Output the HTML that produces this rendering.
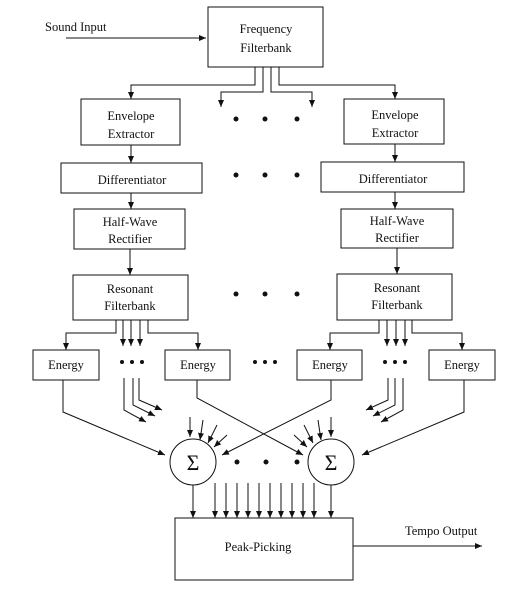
<!DOCTYPE html>
<html><head><meta charset="utf-8"><style>
html,body{margin:0;padding:0;background:#fff;}
svg{display:block;}
text{font-family:"Liberation Serif",serif;font-size:12.5px;fill:#111;}
</style></head><body>
<svg width="527" height="604" viewBox="0 0 527 604" xmlns="http://www.w3.org/2000/svg">
<defs>
<marker id="a" markerWidth="8" markerHeight="8" refX="7" refY="3" orient="auto" markerUnits="userSpaceOnUse">
<path d="M0,0 L7,3 L0,6 Z" fill="#111"/></marker>
</defs>
<g fill="none" stroke="#111" stroke-width="1">
<!-- boxes -->
<rect x="208" y="7" width="115" height="60"/>
<rect x="81" y="99" width="99" height="46"/>
<rect x="344" y="99" width="100" height="45"/>
<rect x="61" y="163" width="141" height="30"/>
<rect x="321" y="162" width="143" height="30"/>
<rect x="74" y="209" width="111" height="40"/>
<rect x="341" y="209" width="112" height="39"/>
<rect x="73" y="275" width="115" height="45"/>
<rect x="337" y="274" width="115" height="46"/>
<rect x="33" y="350" width="66" height="30"/>
<rect x="165" y="350" width="65" height="30"/>
<rect x="297" y="350" width="65" height="30"/>
<rect x="429" y="350" width="66" height="30"/>
<rect x="175" y="518" width="178" height="62"/>
<circle cx="193" cy="462" r="23"/>
<circle cx="331" cy="462" r="23"/>
</g>
<g fill="none" stroke="#111" stroke-width="1" marker-end="url(#a)">
<path d="M66,38 H206"/>
<path d="M255,67 V85 H131 V99"/>
<path d="M263,67 V92 H221 V107"/>
<path d="M271,67 V92 H312 V107"/>
<path d="M279,67 V85 H395 V99"/>
<path d="M131,145 V163"/><path d="M395,144 V162"/>
<path d="M131,193 V209"/><path d="M395,192 V209"/>
<path d="M130,249 V275"/><path d="M397,248 V274"/>
<path d="M116,320 V333 H66 V350"/>
<path d="M123,320 V346"/><path d="M131,320 V346"/><path d="M140,320 V346"/>
<path d="M148,320 V333 H198 V350"/>
<path d="M379,320 V333 H330 V350"/>
<path d="M387,320 V346"/><path d="M396,320 V346"/><path d="M405,320 V346"/>
<path d="M412,320 V333 H462 V350"/>
<path d="M124,378 V410 L146,422"/>
<path d="M133,378 V405 L155,416"/>
<path d="M139,378 V400 L162,410"/>
<path d="M403,378 V410 L381,422"/>
<path d="M395,378 V405 L373,416"/>
<path d="M388,378 V400 L366,410"/>
<path d="M63,380 V412 L165,455"/>
<path d="M197,380 V398 L303,455"/>
<path d="M331,380 V400 L222,455"/>
<path d="M464,380 V412 L362,455"/>
<path d="M190,417 V437"/><path d="M203,420 L200,440"/><path d="M217,425 L208,443"/><path d="M227,435 L214,447"/>
<path d="M331,417 V437"/><path d="M318,420 L321,440"/><path d="M304,425 L313,443"/><path d="M294,435 L307,447"/>
<path d="M193,485 V518"/><path d="M331,485 V518"/>
<path d="M215,483 V518"/><path d="M226,483 V518"/><path d="M237,483 V518"/><path d="M248,483 V518"/><path d="M259,483 V518"/>
<path d="M270,483 V518"/><path d="M281,483 V518"/><path d="M292,483 V518"/><path d="M303,483 V518"/><path d="M314,483 V518"/>
<path d="M353,546 H482"/>
</g>
<g fill="#111">
<circle cx="236" cy="119" r="2.5"/><circle cx="265" cy="119" r="2.5"/><circle cx="297" cy="119" r="2.5"/>
<circle cx="236" cy="175" r="2.5"/><circle cx="265" cy="175" r="2.5"/><circle cx="297" cy="175" r="2.5"/>
<circle cx="236" cy="294" r="2.5"/><circle cx="265" cy="294" r="2.5"/><circle cx="297" cy="294" r="2.5"/>
<circle cx="122" cy="362" r="2"/><circle cx="132" cy="362" r="2"/><circle cx="142" cy="362" r="2"/>
<circle cx="255" cy="362" r="2"/><circle cx="265" cy="362" r="2"/><circle cx="275" cy="362" r="2"/>
<circle cx="385" cy="362" r="2"/><circle cx="395" cy="362" r="2"/><circle cx="405" cy="362" r="2"/>
<circle cx="237" cy="462" r="2.5"/><circle cx="266" cy="462" r="2.5"/><circle cx="297" cy="462" r="2.5"/>
</g>
<g text-anchor="middle">
<text x="45" y="31" text-anchor="start">Sound Input</text>
<text x="266" y="33">Frequency</text><text x="266" y="52">Filterbank</text>
<text x="131" y="120">Envelope</text><text x="131" y="138">Extractor</text>
<text x="395" y="119">Envelope</text><text x="395" y="137">Extractor</text>
<text x="132" y="184">Differentiator</text>
<text x="393" y="183">Differentiator</text>
<text x="130" y="226">Half-Wave</text><text x="130" y="243">Rectifier</text>
<text x="397" y="225">Half-Wave</text><text x="397" y="242">Rectifier</text>
<text x="130" y="293">Resonant</text><text x="130" y="310">Filterbank</text>
<text x="397" y="292">Resonant</text><text x="397" y="309">Filterbank</text>
<text x="66" y="369">Energy</text><text x="198" y="369">Energy</text>
<text x="330" y="369">Energy</text><text x="462" y="369">Energy</text>
<text x="193" y="470" style="font-size:22px">Σ</text>
<text x="331" y="470" style="font-size:22px">Σ</text>
<text x="258" y="551">Peak-Picking</text>
<text x="405" y="535" text-anchor="start">Tempo Output</text>
</g>
</svg>
</body></html>
